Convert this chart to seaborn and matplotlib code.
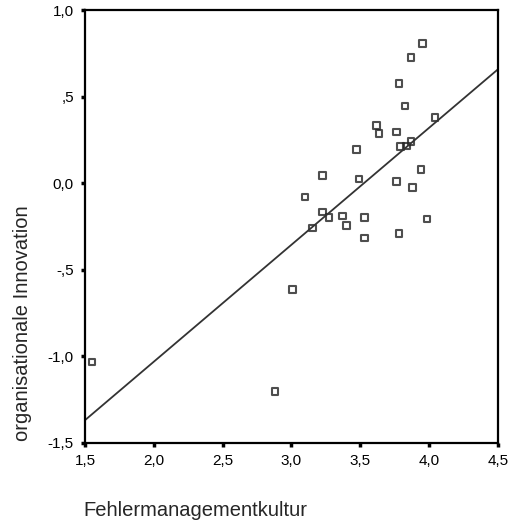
import seaborn as sns
import matplotlib.pyplot as plt
import pandas as pd

fehlerkultur = [1.551, 2.880, 3.009, 3.953, 3.868, 3.781, 3.824, 4.042, 3.619, 3.636,
                3.764, 3.474, 3.793, 3.837, 3.868, 3.227, 3.490, 3.764, 3.941, 3.880,
                3.098, 3.227, 3.272, 3.372, 3.401, 3.531, 3.154, 3.984, 3.781, 3.531]
innovation = [-1.032, -1.204, -0.613, 0.808, 0.727, 0.577, 0.447, 0.378, 0.332, 0.288,
              0.297, 0.196, 0.211, 0.215, 0.240, 0.043, 0.023, 0.009, 0.080, -0.024,
              -0.081, -0.165, -0.199, -0.188, -0.245, -0.199, -0.260, -0.208, -0.289, -0.315]

x_ticks = [1.5, 2.0, 2.5, 3.0, 3.5, 4.0, 4.5]
x_ticklabels = ["1,5", "2,0", "2,5", "3,0", "3,5", "4,0", "4,5"]
y_ticks = [-1.5, -1.0, -0.5, 0.0, 0.5, 1.0]
y_ticklabels = ["-1,5", "-1,0", "-,5", "0,0", ",5", "1,0"]

df = pd.DataFrame({"Fehlermanagementkultur": fehlerkultur,
                   "organisationale Innovation": innovation})

sns.set_style("ticks")
plt.rcParams['font.family'] = ['Liberation Sans', 'DejaVu Sans']

fig = plt.figure(figsize=(5.1, 5.23), dpi=100)
ax = fig.add_axes([85 / 510, 80 / 523, 413 / 510, 433 / 523])
ax.set_xlim(1.5, 4.5)
ax.set_ylim(-1.5, 1.0)

# Streupunkte + Regressionsgerade
sns.regplot(x="Fehlermanagementkultur", y="organisationale Innovation", data=df,
            ax=ax, ci=None, truncate=False, marker="s",
            scatter_kws=dict(s=22, facecolors="none", edgecolors="#222222",
                             linewidths=1.5),
            line_kws=dict(color="#333333", linewidth=1.3))

ax.set_xlim(1.5, 4.5)
ax.set_ylim(-1.5, 1.0)
ax.set_xticks(x_ticks)
ax.set_xticklabels(x_ticklabels)
ax.set_yticks(y_ticks)
ax.set_yticklabels(y_ticklabels)
ax.tick_params(direction="out", length=3, width=2.5, labelsize=11,
               colors="black", pad=5)
for s in ax.spines.values():
    s.set_visible(True)
    s.set_linewidth(1.6)
    s.set_color("black")

ax.set_xlabel("")
ax.set_ylabel("")
fig.text(83 / 510, 1 - 510 / 523, "Fehlermanagementkultur", fontsize=14.5,
         ha="left", va="center")
fig.text(23 / 510, 1 - 323 / 523, "organisationale Innovation", fontsize=14.5,
         rotation=90, ha="center", va="center")

fig.savefig("out.png", dpi=100)
